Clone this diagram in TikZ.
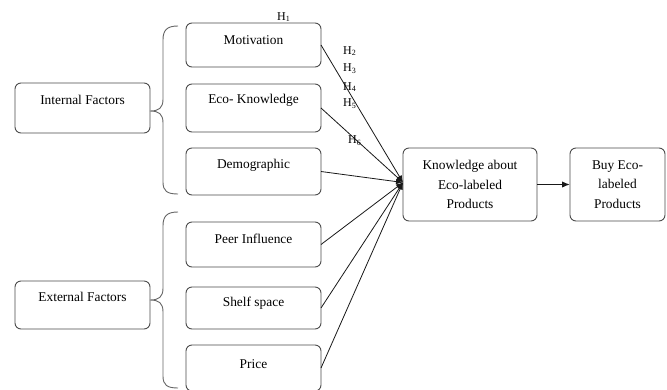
\documentclass[tikz,border=0pt]{standalone}
\usepackage{fontspec}
\setmainfont{Liberation Serif}
\usetikzlibrary{arrows.meta}
\begin{document}
\begin{tikzpicture}[x=1pt,y=-1pt,
  box/.style={draw=black!70, line width=0.9pt, rounded corners=6pt,
    font=\fontsize{13.4}{19.5}\selectfont, align=center, inner sep=0pt, outer sep=0pt,
    minimum width=135pt},
  brace/.style={draw=black!60, line width=0.9pt},
  conn/.style={draw=black!90, line width=0.8pt, -{Latex[length=7pt,width=5.5pt]}},
  hlab/.style={font=\fontsize{12}{13}\selectfont, inner sep=0pt, anchor=west}]
\useasboundingbox (0,0) rectangle (667,389);
\fill[white] (0,0) rectangle (667,389);
% left factor boxes
\node[box, minimum height=50pt] (int) at (82.5,108) {\raisebox{8pt}[\height][\depth]{Internal Factors}};
\node[box, minimum height=48pt] (ext) at (82.5,305) {\raisebox{8pt}[\height][\depth]{External Factors}};
% internal items
\node[box, minimum height=44pt] (mot) at (253.5,45) {\raisebox{5pt}[\height][\depth]{Motivation}};
\node[box, minimum height=48pt] (eco) at (253.5,108) {\raisebox{8pt}[\height][\depth]{Eco- Knowledge}};
\node[box, minimum height=47pt] (dem) at (253.5,171.5) {\raisebox{6pt}[\height][\depth]{Demographic}};
% external items
\node[box, minimum height=45pt] (peer) at (253.5,244.5) {\raisebox{6pt}[\height][\depth]{Peer Influence}};
\node[box, minimum height=42pt] (shelf) at (253.5,308) {\raisebox{5pt}[\height][\depth]{Shelf space}};
\node[box, minimum height=46pt] (price) at (253.5,368) {\raisebox{4pt}[\height][\depth]{Price}};
% outcome boxes
\node[box, minimum width=134pt, minimum height=73pt] (know) at (470,184.5) {Knowledge about\\Eco-labeled\\Products};
\node[box, minimum width=95pt, minimum height=73pt] (buy) at (617.5,184.5) {Buy Eco-\\labeled\\Products};
% braces
\draw[brace] (178,26) .. controls (167,26) and (163,30) .. (163,40) -- (163,99)
  .. controls (163,108) and (159,111) .. (int.east |- 0,111)
  .. controls (159,111) and (163,114) .. (163,123) -- (163,182)
  .. controls (163,191) and (167,194) .. (178,194);
\draw[brace] (178,212) .. controls (167,212) and (163,216) .. (163,226) -- (163,288)
  .. controls (163,297) and (159,300) .. (ext.east |- 0,300)
  .. controls (159,300) and (163,303) .. (163,312) -- (163,376)
  .. controls (163,385) and (167,388) .. (178,388);
% connectors
\coordinate (tip) at ([yshift=2pt]know.west);
\draw[conn] (mot.east) -- (tip);
\draw[conn] (eco.east) -- (tip);
\draw[conn] (dem.east) -- (tip);
\draw[conn] (peer.east) -- (tip);
\draw[conn] (shelf.east) -- (tip);
\draw[conn] (price.east) -- (tip);
\draw[draw=black!90, line width=1.4pt, -{Latex[length=8pt,width=6.5pt]}] (know.east) -- (buy.west);
% hypothesis labels
\node[hlab] (h1) at (277,17) {H\textsubscript{1}};
\node[hlab] (h2) at (343,51) {H\textsubscript{2}};
\node[hlab] (h3) at (343,69) {H\textsubscript{3}};
\node[hlab] (h4) at (343,87) {H\textsubscript{4}};
\node[hlab] (h5) at (343,104) {H\textsubscript{5}};
\node[hlab] (h6) at (348,141) {H\textsubscript{6}};
\end{tikzpicture}
\end{document}
